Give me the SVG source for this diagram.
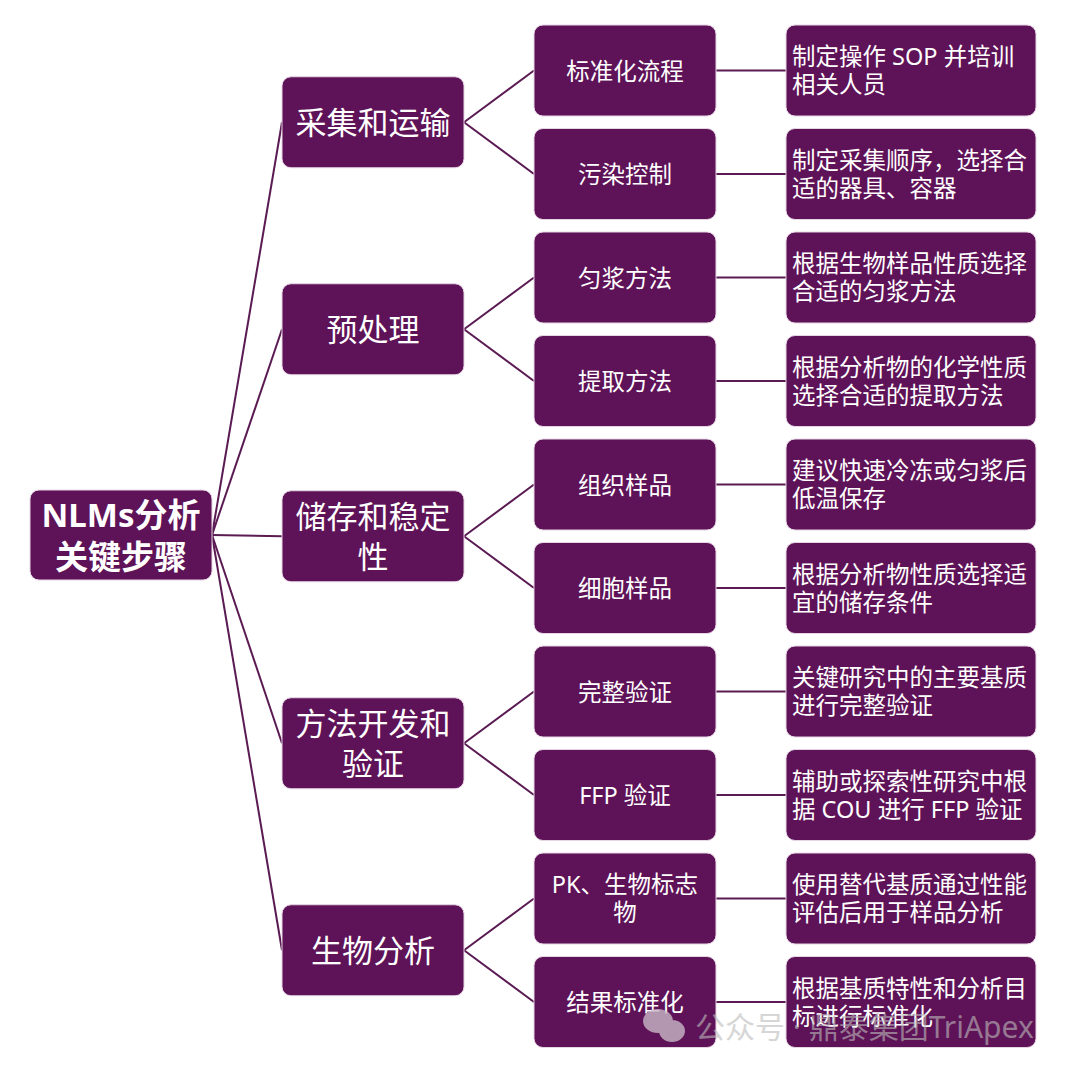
<svg xmlns="http://www.w3.org/2000/svg" width="1080" height="1071" viewBox="0 0 1080 1071">
<style>
.box{fill:#5e1257;stroke:#e6d6e4;stroke-width:1}
.t{fill:#ffffff;font-family:"Noto Sans","Noto Sans CJK SC",sans-serif;dominant-baseline:central}
.root{font-size:33px;font-weight:bold;text-anchor:middle}
.l1{font-size:31px;text-anchor:middle}
.l2{font-size:23.5px;text-anchor:middle}
.l3{font-size:23.5px}
.c{stroke:#5a1a52;stroke-width:2;fill:none}
.wm{fill:#bdbdbd;opacity:0.75;font-family:"Noto Sans","Noto Sans CJK SC",sans-serif;font-size:30px}
</style>
<rect width="1080" height="1071" fill="#ffffff"/>
<g id="connectors">
<line class="c" x1="212" y1="535" x2="282" y2="122.25"/>
<line class="c" x1="212" y1="535" x2="282" y2="329.25"/>
<line class="c" x1="212" y1="535" x2="282" y2="536.25"/>
<line class="c" x1="212" y1="535" x2="282" y2="743.25"/>
<line class="c" x1="212" y1="535" x2="282" y2="950.25"/>
<line class="c" x1="464" y1="122.25" x2="534" y2="70.5"/>
<line class="c" x1="464" y1="122.25" x2="534" y2="174"/>
<line class="c" x1="464" y1="329.25" x2="534" y2="277.5"/>
<line class="c" x1="464" y1="329.25" x2="534" y2="381"/>
<line class="c" x1="464" y1="536.25" x2="534" y2="484.5"/>
<line class="c" x1="464" y1="536.25" x2="534" y2="588"/>
<line class="c" x1="464" y1="743.25" x2="534" y2="691.5"/>
<line class="c" x1="464" y1="743.25" x2="534" y2="795"/>
<line class="c" x1="464" y1="950.25" x2="534" y2="898.5"/>
<line class="c" x1="464" y1="950.25" x2="534" y2="1002"/>
<line class="c" x1="716" y1="70.5" x2="786" y2="70.5"/>
<line class="c" x1="716" y1="174" x2="786" y2="174"/>
<line class="c" x1="716" y1="277.5" x2="786" y2="277.5"/>
<line class="c" x1="716" y1="381" x2="786" y2="381"/>
<line class="c" x1="716" y1="484.5" x2="786" y2="484.5"/>
<line class="c" x1="716" y1="588" x2="786" y2="588"/>
<line class="c" x1="716" y1="691.5" x2="786" y2="691.5"/>
<line class="c" x1="716" y1="795" x2="786" y2="795"/>
<line class="c" x1="716" y1="898.5" x2="786" y2="898.5"/>
<line class="c" x1="716" y1="1002" x2="786" y2="1002"/>
</g>
<g id="root">
<rect class="box" x="30" y="490" width="182" height="90" rx="9"/>
<text class="t root" x="121" y="514">NLMs分析</text>
<text class="t root" x="121" y="556">关键步骤</text>
</g>
<g id="n1">
<rect class="box" x="282" y="76.75" width="182" height="91" rx="9"/>
<text class="t l1" x="373" y="122.25">采集和运输</text>
</g>
<g id="n2">
<rect class="box" x="282" y="283.75" width="182" height="91" rx="9"/>
<text class="t l1" x="373" y="329.25">预处理</text>
</g>
<g id="n3">
<rect class="box" x="282" y="490.75" width="182" height="91" rx="9"/>
<text class="t l1" x="373" y="516">储存和稳定</text>
<text class="t l1" x="373" y="556">性</text>
</g>
<g id="n4">
<rect class="box" x="282" y="697.75" width="182" height="91" rx="9"/>
<text class="t l1" x="373" y="723">方法开发和</text>
<text class="t l1" x="373" y="763">验证</text>
</g>
<g id="n5">
<rect class="box" x="282" y="904.75" width="182" height="91" rx="9"/>
<text class="t l1" x="373" y="950.25">生物分析</text>
</g>
<g id="n1a"><rect class="box" x="534" y="25" width="182" height="91" rx="9"/><text class="t l2" x="625" y="70.5">标准化流程</text></g>
<g id="n1b"><rect class="box" x="534" y="128.5" width="182" height="91" rx="9"/><text class="t l2" x="625" y="174">污染控制</text></g>
<g id="n2a"><rect class="box" x="534" y="232" width="182" height="91" rx="9"/><text class="t l2" x="625" y="277.5">匀浆方法</text></g>
<g id="n2b"><rect class="box" x="534" y="335.5" width="182" height="91" rx="9"/><text class="t l2" x="625" y="381">提取方法</text></g>
<g id="n3a"><rect class="box" x="534" y="439" width="182" height="91" rx="9"/><text class="t l2" x="625" y="484.5">组织样品</text></g>
<g id="n3b"><rect class="box" x="534" y="542.5" width="182" height="91" rx="9"/><text class="t l2" x="625" y="588">细胞样品</text></g>
<g id="n4a"><rect class="box" x="534" y="646" width="182" height="91" rx="9"/><text class="t l2" x="625" y="691.5">完整验证</text></g>
<g id="n4b"><rect class="box" x="534" y="749.5" width="182" height="91" rx="9"/><text class="t l2" x="625" y="795">FFP 验证</text></g>
<g id="n5a"><rect class="box" x="534" y="853" width="182" height="91" rx="9"/><text class="t l2" x="625" y="884">PK、生物标志</text><text class="t l2" x="625" y="912">物</text></g>
<g id="n5b"><rect class="box" x="534" y="956.5" width="182" height="91" rx="9"/><text class="t l2" x="625" y="1002">结果标准化</text></g>
<g id="d1a"><rect class="box" x="786" y="25" width="250" height="91" rx="9"/><text class="t l3" x="792" y="56">制定操作 SOP 并培训</text><text class="t l3" x="792" y="84">相关人员</text></g>
<g id="d1b"><rect class="box" x="786" y="128.5" width="250" height="91" rx="9"/><text class="t l3" x="792" y="159.5">制定采集顺序，选择合</text><text class="t l3" x="792" y="187.5">适的器具、容器</text></g>
<g id="d2a"><rect class="box" x="786" y="232" width="250" height="91" rx="9"/><text class="t l3" x="792" y="263">根据生物样品性质选择</text><text class="t l3" x="792" y="291">合适的匀浆方法</text></g>
<g id="d2b"><rect class="box" x="786" y="335.5" width="250" height="91" rx="9"/><text class="t l3" x="792" y="366.5">根据分析物的化学性质</text><text class="t l3" x="792" y="394.5">选择合适的提取方法</text></g>
<g id="d3a"><rect class="box" x="786" y="439" width="250" height="91" rx="9"/><text class="t l3" x="792" y="470">建议快速冷冻或匀浆后</text><text class="t l3" x="792" y="498">低温保存</text></g>
<g id="d3b"><rect class="box" x="786" y="542.5" width="250" height="91" rx="9"/><text class="t l3" x="792" y="573.5">根据分析物性质选择适</text><text class="t l3" x="792" y="601.5">宜的储存条件</text></g>
<g id="d4a"><rect class="box" x="786" y="646" width="250" height="91" rx="9"/><text class="t l3" x="792" y="677">关键研究中的主要基质</text><text class="t l3" x="792" y="705">进行完整验证</text></g>
<g id="d4b"><rect class="box" x="786" y="749.5" width="250" height="91" rx="9"/><text class="t l3" x="792" y="780.5">辅助或探索性研究中根</text><text class="t l3" x="792" y="808.5">据 COU 进行 FFP 验证</text></g>
<g id="d5a"><rect class="box" x="786" y="853" width="250" height="91" rx="9"/><text class="t l3" x="792" y="884">使用替代基质通过性能</text><text class="t l3" x="792" y="912">评估后用于样品分析</text></g>
<g id="d5b"><rect class="box" x="786" y="956.5" width="250" height="91" rx="9"/><text class="t l3" x="792" y="987.5">根据基质特性和分析目</text><text class="t l3" x="792" y="1015.5">标进行标准化</text></g>
<g id="watermark" opacity="0.8">
<ellipse cx="658" cy="1021" rx="15" ry="12" fill="#c9b8c6"/>
<ellipse cx="672" cy="1031" rx="13" ry="11" fill="#c9b8c6"/>
<text class="wm" x="695" y="1038">公众号 · 鼎泰集团TriApex</text>
</g>
</svg>
